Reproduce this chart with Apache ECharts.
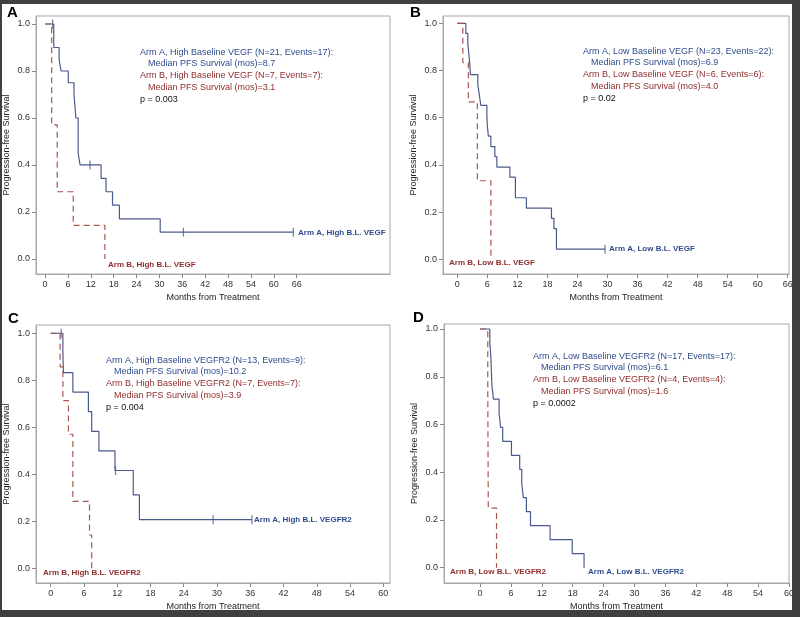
<!DOCTYPE html>
<html>
<head>
<meta charset="utf-8">
<script src="https://cdn.jsdelivr.net/npm/echarts@6/dist/echarts.min.js"></script>
<style>
  html, body { margin: 0; padding: 0; background: #fff; }
  #main { width: 800px; height: 617px; }
</style>
</head>
<body>
<div id="main"></div>
<script>
// tick labels
var survTicks = [0, 0.2, 0.4, 0.6, 0.8, 1.0];
var monthTicks66 = [0, 6, 12, 18, 24, 30, 36, 42, 48, 54, 60, 66];
var monthTicks60 = [0, 6, 12, 18, 24, 30, 36, 42, 48, 54, 60];

// A: high baseline VEGF
var aArmATime = [0, 2.3, 3.7, 4.2, 6.1, 7.6, 8.1, 8.7, 9.2, 14.7, 16.0, 17.7, 19.5, 30.2, 65.1];
var aArmASurv = [1, 0.9, 0.85, 0.8, 0.75, 0.7, 0.6, 0.45, 0.4, 0.343, 0.286, 0.229, 0.171, 0.114, 0.114];
var aArmBTime = [0, 1.75, 3.2, 7.4, 15.7];
var aArmBSurv = [1, 0.571, 0.286, 0.143, 0];
var aCensorTime = [2.0, 11.8, 36.3, 65.1];
var aCensorSurv = [1, 0.4, 0.114, 0.114];

// B: low baseline VEGF
var bArmATime = [0, 1.7, 2.1, 2.3, 2.5, 2.6, 4.1, 4.4, 4.7, 5.9, 6.0, 6.2, 6.7, 7.5, 7.9, 10.5, 11.6, 13.8, 18.8, 19.3, 19.8, 29.5];
var bArmASurv = [1, 0.957, 0.913, 0.870, 0.826, 0.783, 0.739, 0.696, 0.652, 0.609, 0.565, 0.522, 0.478, 0.435, 0.391, 0.348, 0.261, 0.217, 0.174, 0.130, 0.043, 0.043];
var bArmBTime = [0, 1.1, 2.2, 4.0, 6.7];
var bArmBSurv = [1, 0.833, 0.667, 0.333, 0];
var bCensorTime = [29.5];
var bCensorSurv = [0.043];

// C: high baseline VEGFR2
var cArmATime = [0, 2.2, 2.3, 4.0, 6.8, 7.4, 8.7, 11.6, 14.9, 16.0, 36.3];
var cArmASurv = [1, 0.917, 0.833, 0.75, 0.667, 0.583, 0.5, 0.417, 0.313, 0.208, 0.208];
var cArmBTime = [0, 1.7, 2.2, 3.2, 4.0, 7.0, 7.4];
var cArmBSurv = [1, 0.857, 0.714, 0.571, 0.286, 0.143, 0];
var cCensorTime = [1.9, 11.7, 29.3, 36.3];
var cCensorSurv = [1, 0.417, 0.208, 0.208];

// D: low baseline VEGFR2
var dArmATime = [0, 1.9, 2.1, 2.2, 2.3, 2.6, 3.7, 4.0, 4.4, 6.1, 7.7, 8.1, 8.4, 9.0, 9.8, 13.6, 17.9, 20.2];
var dArmASurv = [1, 0.941, 0.882, 0.824, 0.765, 0.706, 0.647, 0.588, 0.529, 0.471, 0.412, 0.353, 0.294, 0.235, 0.176, 0.118, 0.059, 0];
var dArmBTime = [0, 1.5, 1.6, 3.2];
var dArmBSurv = [1, 0.75, 0.25, 0];

var FONT = 'Liberation Sans';
var BLUE_LINE = '#4a5a8c';
var RED_LINE = '#a8574e';
var BLUE_TXT = '#2f4c8c';
var RED_TXT = '#8e2e2c';

function zip(xs, ys) {
  return xs.map(function (x, i) { return [x, ys[i]]; });
}

function makeGrid(left, top, width, height) {
  return {
    left: left, top: top, width: width, height: height,
    show: true, backgroundColor: '#fff', borderColor: '#a8a8a8', borderWidth: 1
  };
}

function makeX(idx, min, max, ticks) {
  return {
    type: 'value', gridIndex: idx, min: min, max: max, position: 'bottom',
    name: 'Months from Treatment', nameLocation: 'middle', nameGap: 19,
    nameTextStyle: { color: '#222', fontSize: 9, fontFamily: FONT },
    splitLine: { show: false },
    axisLine: { show: true, onZero: false, lineStyle: { color: '#a8a8a8' } },
    axisTick: { show: true, inside: false, customValues: ticks, length: 4, lineStyle: { color: '#888' } },
    axisLabel: { customValues: ticks, color: '#333', fontSize: 9, fontFamily: FONT, margin: 6 }
  };
}

function makeY(idx, min, max) {
  return {
    type: 'value', gridIndex: idx, min: min, max: max, position: 'left',
    name: 'Progression-free Survival', nameLocation: 'middle', nameGap: 25,
    nameTextStyle: { color: '#222', fontSize: 9, fontFamily: FONT },
    splitLine: { show: false },
    axisLine: { show: true, onZero: false, lineStyle: { color: '#a8a8a8' } },
    axisTick: { show: true, inside: false, customValues: survTicks, length: 4, lineStyle: { color: '#888' } },
    axisLabel: {
      customValues: survTicks, color: '#333', fontSize: 9, fontFamily: FONT, margin: 6,
      formatter: function (v) { return v.toFixed(1); }
    }
  };
}

function kmLine(idx, xs, ys, color, dashed) {
  return {
    type: 'line', xAxisIndex: idx, yAxisIndex: idx, step: 'end',
    showSymbol: false, silent: true, z: dashed ? 3 : 2,
    lineStyle: { color: color, width: 1.2, type: dashed ? [6, 4] : 'solid' },
    data: zip(xs, ys)
  };
}

function censor(idx, xs, ys) {
  return {
    type: 'scatter', xAxisIndex: idx, yAxisIndex: idx, silent: true,
    symbol: 'rect', symbolSize: [1.2, 9],
    itemStyle: { color: BLUE_LINE },
    data: zip(xs, ys)
  };
}

function txt(x, y, s, color, bold, size) {
  return {
    type: 'text', z: 50,
    style: {
      x: x, y: y, text: s, fill: color,
      font: (bold ? 'bold ' : '') + (size || 9) + 'px "' + FONT + '"',
      align: 'left', verticalAlign: 'middle'
    }
  };
}

// 面板文字
function notes(x, y, lines) {
  var gap = [0, 10.5, 23, 34.5, 46.5];
  return [
    txt(x, y + gap[0], lines[0], BLUE_TXT),
    txt(x + 8, y + gap[1], lines[1], BLUE_TXT),
    txt(x, y + gap[2], lines[2], RED_TXT),
    txt(x + 8, y + gap[3], lines[3], RED_TXT),
    txt(x, y + gap[4], lines[4], '#111')
  ];
}

var graphics = [].concat(
  notes(140, 53, ['Arm A, High Baseline VEGF (N=21, Events=17):', 'Median PFS Survival (mos)=8.7',
    'Arm B, High Baseline VEGF (N=7, Events=7):', 'Median PFS Survival (mos)=3.1', 'p = 0.003']),
  notes(583, 52, ['Arm A, Low Baseline VEGF (N=23, Events=22):', 'Median PFS Survival (mos)=6.9',
    'Arm B, Low Baseline VEGF (N=6, Events=6):', 'Median PFS Survival (mos)=4.0', 'p = 0.02']),
  notes(106, 361, ['Arm A, High Baseline VEGFR2 (N=13, Events=9):', 'Median PFS Survival (mos)=10.2',
    'Arm B, High Baseline VEGFR2 (N=7, Events=7):', 'Median PFS Survival (mos)=3.9', 'p = 0.004']),
  notes(533, 357, ['Arm A, Low Baseline VEGFR2 (N=17, Events=17):', 'Median PFS Survival (mos)=6.1',
    'Arm B, Low Baseline VEGFR2 (N=4, Events=4):', 'Median PFS Survival (mos)=1.6', 'p = 0.0002']),
  [
    txt(298, 233, 'Arm A, High B.L. VEGF', BLUE_TXT, true, 8),
    txt(108, 265, 'Arm B, High B.L. VEGF', RED_TXT, true, 8),
    txt(609, 249, 'Arm A, Low B.L. VEGF', BLUE_TXT, true, 8),
    txt(449, 263, 'Arm B, Low B.L. VEGF', RED_TXT, true, 8),
    txt(254, 520, 'Arm A, High B.L. VEGFR2', BLUE_TXT, true, 8),
    txt(43, 573, 'Arm B, High B.L. VEGFR2', RED_TXT, true, 8),
    txt(588, 572, 'Arm A, Low B.L. VEGFR2', BLUE_TXT, true, 8),
    txt(450, 572, 'Arm B, Low B.L. VEGFR2', RED_TXT, true, 8),
    // panel letters
    txt(7, 13, 'A', '#000', true, 15),
    txt(410, 13, 'B', '#000', true, 15),
    txt(8, 319, 'C', '#000', true, 15),
    txt(413, 318, 'D', '#000', true, 15),
    // dark screenshot frame
    { type: 'rect', z: 60, shape: { x: 0, y: 0, width: 800, height: 4 }, style: { fill: '#404040' } },
    { type: 'rect', z: 60, shape: { x: 0, y: 0, width: 2, height: 617 }, style: { fill: '#404040' } },
    { type: 'rect', z: 60, shape: { x: 792, y: 0, width: 8, height: 617 }, style: { fill: '#404040' } },
    { type: 'rect', z: 60, shape: { x: 0, y: 610, width: 800, height: 7 }, style: { fill: '#404040' } }
  ]
);

var myChart = echarts.init(document.getElementById('main'), null, { renderer: 'canvas' });
var option = {
  backgroundColor: '#fff',
  animation: false,
  grid: [
    makeGrid(36, 16, 354, 258),
    makeGrid(443, 16, 346, 258),
    makeGrid(36, 325, 354, 258),
    makeGrid(444, 324, 345, 259)
  ],
  xAxis: [
    makeX(0, -2.36, 90.45, monthTicks66),
    makeX(1, -2.86, 66.25, monthTicks66),
    makeX(2, -2.65, 61.21, monthTicks60),
    makeX(3, -7, 60, monthTicks60)
  ],
  yAxis: [
    makeY(0, -0.064, 1.034),
    makeY(1, -0.062, 1.031),
    makeY(2, -0.061, 1.035),
    makeY(3, -0.064, 1.021)
  ],
  series: [
    kmLine(0, aArmATime, aArmASurv, BLUE_LINE, false),
    kmLine(0, aArmBTime, aArmBSurv, RED_LINE, true),
    censor(0, aCensorTime, aCensorSurv),
    kmLine(1, bArmATime, bArmASurv, BLUE_LINE, false),
    kmLine(1, bArmBTime, bArmBSurv, RED_LINE, true),
    censor(1, bCensorTime, bCensorSurv),
    kmLine(2, cArmATime, cArmASurv, BLUE_LINE, false),
    kmLine(2, cArmBTime, cArmBSurv, RED_LINE, true),
    censor(2, cCensorTime, cCensorSurv),
    kmLine(3, dArmATime, dArmASurv, BLUE_LINE, false),
    kmLine(3, dArmBTime, dArmBSurv, RED_LINE, true)
  ],
  graphic: graphics
};
myChart.setOption(option);
</script>
</body>
</html>
